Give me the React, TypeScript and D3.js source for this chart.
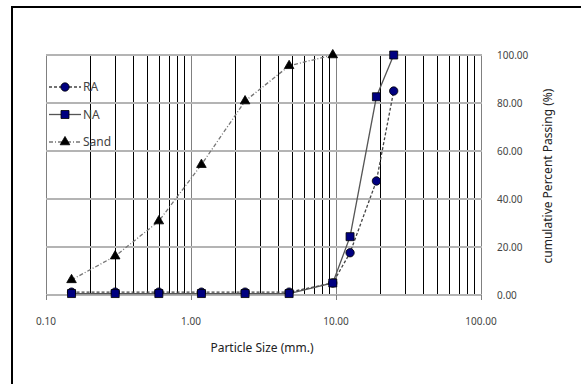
import React, { useEffect, useRef } from 'react';
import * as d3 from 'd3';

// sieve sizes (mm) and % passing
const sieveSizes = [0.15, 0.3, 0.6, 1.18, 2.36, 4.75, 9.5, 12.5, 19, 25];
const raPassing = [1.2, 1.2, 1.2, 1.2, 1.2, 1.2, 5, 17.6, 47.5, 85];
const naPassing = [0.6, 0.6, 0.6, 0.6, 0.6, 0.6, 5, 24.3, 82.6, 100];
const sandSizes = [0.15, 0.3, 0.6, 1.18, 2.36, 4.75, 9.5];
const sandPassing = [6.3, 16.2, 30.8, 54.3, 80.8, 95.5, 100];

const xTicks = [0.1, 1, 10, 100];
const yTicks = [0, 20, 40, 60, 80, 100];
const seriesNames = ['RA', 'NA', 'Sand'];

const FONT = '"Noto Sans", sans-serif';

export default function App() {
  const ref = useRef<SVGSVGElement>(null);

  useEffect(() => {
    const svg = d3.select(ref.current);
    svg.selectAll('*').remove();

    // frame
    svg.append('path').attr('d', 'M12,384 V7 H581').attr('fill', 'none').attr('stroke', '#000').attr('stroke-width', 2);

    const x = d3.scaleLog().domain([0.1, 100]).range([46, 481]);
    const y = d3.scaleLinear().domain([0, 100]).range([295, 55]);

    const g = svg.append('g');

    // vertical grid (log minor + major)
    const gridVals: number[] = [];
    [0.1, 1, 10].forEach(d => {
      for (let k = 1; k <= 10; k++) gridVals.push(d * k);
    });
    g.selectAll('line.vgrid')
      .data(Array.from(new Set(gridVals.map(v => +v.toPrecision(3)))))
      .enter()
      .append('line')
      .attr('x1', d => Math.round(x(d)) + 0.5)
      .attr('x2', d => Math.round(x(d)) + 0.5)
      .attr('y1', y(100))
      .attr('y2', y(0))
      .attr('stroke', d => (xTicks.includes(d) ? '#808080' : '#000'))
      .attr('stroke-width', 1);

    // horizontal grid
    g.selectAll('line.hgrid')
      .data(yTicks)
      .enter()
      .append('line')
      .attr('x1', x(0.1))
      .attr('x2', x(100) + 1)
      .attr('y1', d => y(d))
      .attr('y2', d => y(d))
      .attr('stroke', '#b4b4b4')
      .attr('stroke-width', 2);

    // x ticks
    g.selectAll('line.xtick')
      .data(xTicks)
      .enter()
      .append('line')
      .attr('x1', d => Math.round(x(d)) + 0.5)
      .attr('x2', d => Math.round(x(d)) + 0.5)
      .attr('y1', y(0))
      .attr('y2', y(0) + 5)
      .attr('stroke', '#808080');

    g.selectAll('text.xlab')
      .data(xTicks)
      .enter()
      .append('text')
      .attr('x', d => x(d))
      .attr('y', 325)
      .attr('text-anchor', 'middle')
      .attr('font-family', FONT)
      .attr('font-size', 10)
      .attr('fill', '#444')
      .text(d => d3.format('.2f')(d));

    g.selectAll('text.ylab')
      .data(yTicks)
      .enter()
      .append('text')
      .attr('x', 497)
      .attr('y', d => y(d) + 1)
      .attr('dominant-baseline', 'middle')
      .attr('font-family', FONT)
      .attr('font-size', 10)
      .attr('fill', '#444')
      .text(d => d3.format('.2f')(d));

    svg.append('text')
      .attr('x', 262)
      .attr('y', 352)
      .attr('text-anchor', 'middle')
      .attr('font-family', FONT)
      .attr('font-size', 12)
      .attr('fill', '#222')
      .text('Particle Size (mm.)');

    svg.append('text')
      .attr('transform', 'translate(552,176) rotate(-90)')
      .attr('text-anchor', 'middle')
      .attr('font-family', FONT)
      .attr('font-size', 12)
      .attr('fill', '#222')
      .text('cumulative Percent Passing (%)');

    const line = d3
      .line<[number, number]>()
      .x(d => x(d[0]))
      .y(d => y(d[1]));

    const raPts = sieveSizes.map((s, i) => [s, raPassing[i]] as [number, number]);
    const naPts = sieveSizes.map((s, i) => [s, naPassing[i]] as [number, number]);
    const sandPts = sandSizes.map((s, i) => [s, sandPassing[i]] as [number, number]);

    const styles = [
      { pts: raPts, stroke: '#444', dash: '3,2', shape: d3.symbolCircle, size: 55, fill: '#000080' },
      { pts: naPts, stroke: '#555', dash: null, shape: d3.symbolSquare, size: 64, fill: '#000080' },
      { pts: sandPts, stroke: '#777', dash: '4,2,1,2', shape: d3.symbolTriangle, size: 40, fill: '#000' },
    ];

    // lines
    styles.forEach(s => {
      g.append('path')
        .attr('d', line(s.pts))
        .attr('fill', 'none')
        .attr('stroke', s.stroke)
        .attr('stroke-width', 1.3)
        .attr('stroke-dasharray', s.dash);
    });

    // markers
    styles.forEach(s => {
      g.selectAll(null)
        .data(s.pts)
        .enter()
        .append('path')
        .attr('d', d3.symbol().type(s.shape).size(s.size)())
        .attr('transform', d => `translate(${x(d[0])},${y(d[1])})`)
        .attr('fill', s.fill)
        .attr('stroke', '#000')
        .attr('stroke-width', 0.8);
    });

    // legend
    const leg = svg.append('g');
    seriesNames.forEach((name, i) => {
      const s = styles[i];
      const ly = 87 + i * 27.5;
      leg.append('line')
        .attr('x1', 49)
        .attr('x2', 81)
        .attr('y1', ly)
        .attr('y2', ly)
        .attr('stroke', s.stroke)
        .attr('stroke-width', 1.3)
        .attr('stroke-dasharray', s.dash);
      leg.append('path')
        .attr('d', d3.symbol().type(s.shape).size(s.size)())
        .attr('transform', `translate(65,${ly})`)
        .attr('fill', s.fill)
        .attr('stroke', '#000')
        .attr('stroke-width', 0.8);
      leg.append('text')
        .attr('x', 83)
        .attr('y', ly + 1)
        .attr('dominant-baseline', 'middle')
        .attr('font-family', FONT)
        .attr('font-size', 12)
        .attr('fill', '#444')
        .text(name);
    });
  }, []);

  return (
    <div style={{ position: 'absolute', left: 0, top: 0 }}>
      <svg ref={ref} width={581} height={384} style={{ display: 'block', background: '#fff' }} />
    </div>
  );
}
